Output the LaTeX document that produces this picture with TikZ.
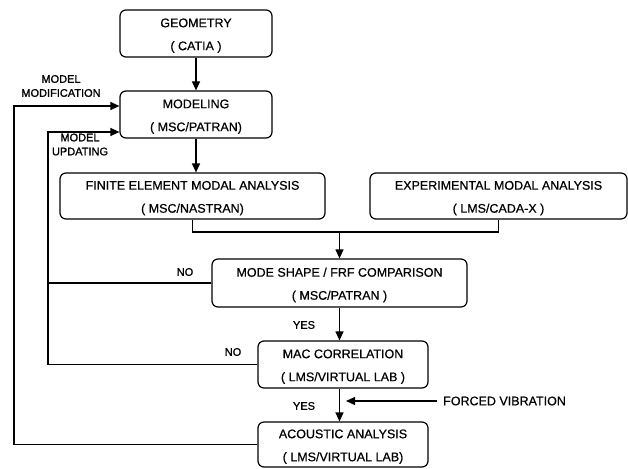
\documentclass[tikz,border=0pt]{standalone}
\usepackage{fontspec}
\setmainfont[FakeBold=0.6]{Liberation Sans}
\newfontfamily\lblfont[FakeBold=1.2]{Liberation Sans}
\usetikzlibrary{arrows.meta}
\newcommand{\twolines}[2]{\rule{0pt}{13pt}#1\\#2}
\begin{document}
\begin{tikzpicture}[x=1pt,y=-1pt,
  box/.style={draw,line width=1.2pt,rounded corners=6pt,inner sep=0pt,align=center,
    font=\fontsize{12.5}{23}\selectfont},
  conn/.style={line width=1.2pt},
  arr/.style={line width=1.2pt,-{Triangle[length=9pt,width=8pt]}},
  lbl/.style={font=\lblfont\fontsize{11}{14}\selectfont,align=center,inner sep=0pt},
  txt/.style={font=\fontsize{12.5}{15}\selectfont,inner sep=0pt}]
\useasboundingbox (0,0) rectangle (628,468);
\node[box,minimum width=152pt,minimum height=47pt] (geo) at (196,33.5) {\twolines{GEOMETRY}{( CATIA )}};
\node[box,minimum width=152pt,minimum height=47pt] (mod) at (196,114.5) {\twolines{MODELING}{( MSC/PATRAN)}};
\node[box,minimum width=265pt,minimum height=46pt] (fe) at (192.5,196) {\twolines{FINITE ELEMENT MODAL ANALYSIS}{( MSC/NASTRAN)}};
\node[box,minimum width=257pt,minimum height=46pt] (ema) at (498.5,196) {\twolines{EXPERIMENTAL MODAL ANALYSIS}{( LMS/CADA-X )}};
\node[box,minimum width=255pt,minimum height=48pt] (cmp) at (339.5,283) {\twolines{MODE SHAPE / FRF COMPARISON}{( MSC/PATRAN )}};
\node[box,minimum width=170pt,minimum height=47pt] (mac) at (343,364.5) {\twolines{MAC CORRELATION}{( LMS/VIRTUAL LAB )}};
\node[box,minimum width=170pt,minimum height=45pt] (ac) at (343,444.5) {\twolines{ACOUSTIC ANALYSIS}{( LMS/VIRTUAL LAB)}};

\node[lbl] (lmm) at (61,86) {MODEL\\MODIFICATION};
\node[lbl] (lmu) at (80,144.5) {MODEL\\UPDATING};
\node[lbl] (no1) at (185,272) {NO};
\node[lbl] (no2) at (233,352) {NO};
\node[lbl] (yes1) at (304,325) {YES};
\node[lbl] (yes2) at (304,406) {YES};
\node[txt,anchor=west] (fv) at (443,401) {FORCED VIBRATION};

\coordinate (outer) at (14,106);
\coordinate (inner) at (48,132);
\coordinate (merge) at (339.5,232);
\coordinate (fvtip) at (346,401);

\draw[arr] (geo.south) -- (mod.north);
\draw[arr] (mod.south) -- (mod.south |- fe.north);
\draw[conn] (fe.south) -- (fe.south |- merge) -- (ema.south |- merge) -- (ema.south);
\draw[arr] (merge) -- (cmp.north);
\draw[arr] (cmp.south) -- (cmp.south |- mac.north);
\draw[arr] (cmp.south |- mac.south) -- (cmp.south |- ac.north);
\draw[arr] (fv.west) ++(-6,0) -- (fvtip);
\draw[arr] (mac.west) -- (mac.west -| inner) -- (inner) -- (inner -| mod.west);
\draw[conn] (cmp.west) -- (cmp.west -| inner);
\draw[arr] (ac.west) -- (ac.west -| outer) -- (outer) -- (outer -| mod.west);
\end{tikzpicture}
\end{document}
